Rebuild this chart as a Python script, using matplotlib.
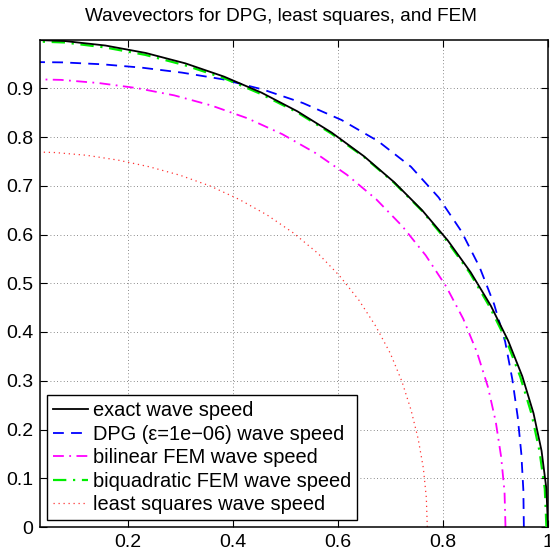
import numpy as np
import matplotlib
matplotlib.use("Agg")
from matplotlib import pyplot as plt

# wavevector angles (degrees) and wave speed radii
angle_deg = [0, 4.5, 9, 13.5, 18, 22.5, 27, 31.5, 36, 40.5, 45,
             49.5, 54, 58.5, 63, 67.5, 72, 76.5, 81, 85.5, 90]

r_exact = [1.0, 1.0, 1.0, 1.0, 1.0, 1.0, 1.0, 1.0, 1.0, 1.0, 1.0,
           1.0, 1.0, 1.0, 1.0, 1.0, 1.0, 1.0, 1.0, 1.0, 1.0]
r_dpg = [0.954, 0.956, 0.961, 0.969, 0.980, 0.994, 1.007, 1.020, 1.032, 1.041, 1.045,
         1.041, 1.032, 1.020, 1.007, 0.994, 0.980, 0.969, 0.961, 0.956, 0.954]
r_bilinear = [0.919, 0.920, 0.922, 0.926, 0.931, 0.936, 0.941, 0.945, 0.948, 0.950, 0.951,
              0.950, 0.948, 0.945, 0.941, 0.936, 0.931, 0.926, 0.922, 0.920, 0.919]
r_biquad = [0.997, 0.997, 0.996, 0.996, 0.996, 0.997, 0.997, 0.998, 0.998, 0.999, 0.999,
            0.999, 0.998, 0.998, 0.997, 0.997, 0.996, 0.996, 0.996, 0.997, 0.997]
r_lsq = [0.770, 0.7705, 0.772, 0.774, 0.777, 0.781, 0.785, 0.788, 0.791, 0.793, 0.794,
         0.793, 0.791, 0.788, 0.785, 0.781, 0.777, 0.774, 0.772, 0.7705, 0.770]

labels = ['exact wave speed',
          'DPG (\u03b5=1e\u221206) wave speed',
          'bilinear FEM wave speed',
          'biquadratic FEM wave speed',
          'least squares wave speed']

xticks = [0.2, 0.4, 0.6, 0.8, 1.0]
xticklabels = ['0.2', '0.4', '0.6', '0.8', '1']
yticks = [0, 0.1, 0.2, 0.3, 0.4, 0.5, 0.6, 0.7, 0.8, 0.9]
yticklabels = ['0', '0.1', '0.2', '0.3', '0.4', '0.5', '0.6', '0.7', '0.8', '0.9']

plt.rcParams['font.family'] = ['Liberation Sans', 'DejaVu Sans']
plt.rcParams['font.size'] = 14

theta = np.radians(angle_deg)

def xy(r):
    r = np.asarray(r)
    return r * np.cos(theta), r * np.sin(theta)

fig = plt.figure(figsize=(5.5, 5.52), dpi=100)
ax = fig.add_axes([40 / 550, 25 / 552, 508 / 550, 487.5 / 552])

x, y = xy(r_exact)
ax.plot(x, y, color='black', lw=1.3, label=labels[0], zorder=5)
x, y = xy(r_dpg)
ax.plot(x, y, color='blue', lw=1.3, dashes=(6, 4), label=labels[1])
x, y = xy(r_bilinear)
ax.plot(x, y, color='magenta', lw=1.3, dashes=(6, 3, 1, 3), label=labels[2])
x, y = xy(r_biquad)
ax.plot(x, y, color='#00ee00', lw=1.6, dashes=(6, 3, 1, 3), label=labels[3], zorder=4)
x, y = xy(r_lsq)
ax.plot(x, y, color='#ff3333', lw=0.9, dashes=(1, 3), label=labels[4])

ax.set_xlim(0.032, 1.0)
ax.set_ylim(0, 1.0)
ax.set_xticks(xticks)
ax.set_xticklabels(xticklabels)
ax.set_yticks(yticks)
ax.set_yticklabels(yticklabels)
ax.tick_params(direction='in', length=5, width=0.8, top=True, right=True, pad=5)
ax.grid(True, color='#666666', linestyle=(0, (1, 3)), linewidth=0.6)
for s in ax.spines.values():
    s.set_linewidth(1.1)
    s.set_color('black')

ax.set_title('Wavevectors for DPG, least squares, and FEM', fontsize=13.7, pad=13, x=0.474)

leg = ax.legend(loc='lower left', fancybox=False, edgecolor='black', framealpha=1,
                handlelength=1.75, handletextpad=0.25, labelspacing=0.22,
                borderaxespad=0.35, borderpad=0.3, fontsize=14.4)
leg.get_frame().set_linewidth(1.0)

fig.savefig('out.png', dpi=100)
